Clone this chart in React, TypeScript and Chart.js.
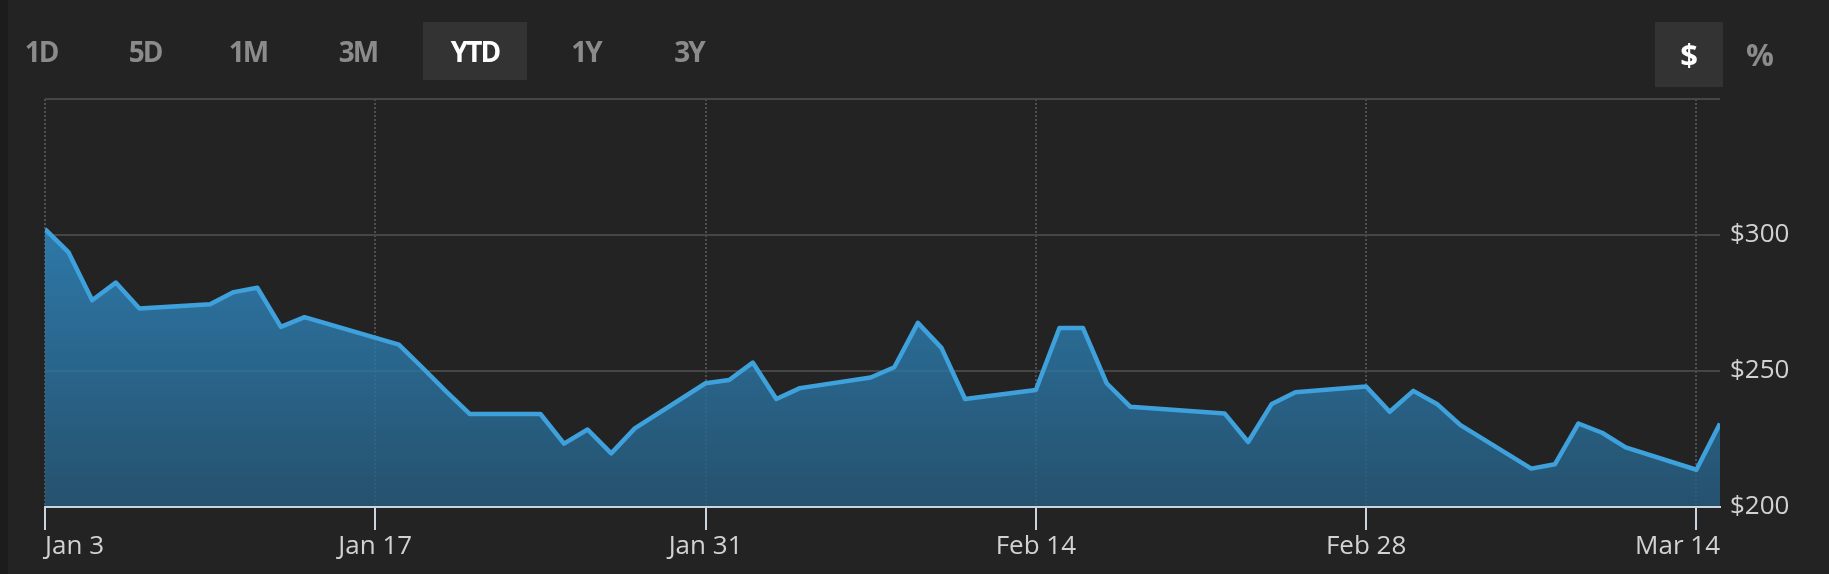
import React, { useEffect, useRef } from "react";
import { Chart, registerables } from "chart.js";

Chart.register(...registerables);

// ---- data ----
const dates = [
  "2022-01-03", "2022-01-04", "2022-01-05", "2022-01-06", "2022-01-07",
  "2022-01-10", "2022-01-11", "2022-01-12", "2022-01-13", "2022-01-14",
  "2022-01-18", "2022-01-19", "2022-01-20", "2022-01-21",
  "2022-01-24", "2022-01-25", "2022-01-26", "2022-01-27", "2022-01-28",
  "2022-01-31", "2022-02-01", "2022-02-02", "2022-02-03", "2022-02-04",
  "2022-02-07", "2022-02-08", "2022-02-09", "2022-02-10", "2022-02-11",
  "2022-02-14", "2022-02-15", "2022-02-16", "2022-02-17", "2022-02-18",
  "2022-02-22", "2022-02-23", "2022-02-24", "2022-02-25",
  "2022-02-28", "2022-03-01", "2022-03-02", "2022-03-03", "2022-03-04",
  "2022-03-07", "2022-03-08", "2022-03-09", "2022-03-10", "2022-03-11",
  "2022-03-14", "2022-03-15",
];
const prices = [
  302.2, 293.6, 276.0, 282.5, 273.0,
  274.5, 279.0, 280.6, 266.2, 269.8,
  259.7, 251.2, 242.5, 234.2,
  234.2, 223.3, 228.5, 219.7, 228.9,
  245.5, 246.7, 253.1, 239.7, 243.7,
  247.6, 251.4, 267.7, 258.5, 239.7,
  243.0, 265.8, 265.8, 245.5, 236.9,
  234.4, 223.9, 237.9, 242.2,
  244.3, 235.0, 242.7, 237.9, 230.1,
  214.1, 215.7, 230.7, 227.3, 221.9,
  213.7, 230.7,
];
const tickDates = ["2022-01-03", "2022-01-17", "2022-01-31", "2022-02-14", "2022-02-28", "2022-03-14"];
const tickLabels = ["Jan 3", "Jan 17", "Jan 31", "Feb 14", "Feb 28", "Mar 14"];
const yTickValues = [200, 250, 300, 350];
const yTickLabels = ["$200", "$250", "$300", ""];
const rangeLabels = ["1D", "5D", "1M", "3M", "YTD", "1Y", "3Y"];
const activeRange = "YTD";
const unitLabels = ["$", "%"];
const activeUnit = "$";

const DAY = 86400000;
const t0 = Date.parse(dates[0] + "T00:00:00Z");
const dayOf = (s: string) => Math.round((Date.parse(s + "T00:00:00Z") - t0) / DAY);
const tickDays = tickDates.map(dayOf);

// layout (not data)
const rangeCenters = [41, 145, 248, 358, 475, 586, 689];
const unitCenters = [1689, 1760];

const FONT = "'Open Sans', 'Noto Sans', sans-serif";

const lastLabelPlugin = {
  id: "lastLabelInside",
  beforeDraw(chart: any) {
    const s = chart.scales.x;
    if (!s) return;
    const items = s.getLabelItems();
    const it = items[items.length - 1];
    if (it) {
      it.options.translation = [chart.chartArea.right, it.options.translation[1]];
      it.options.textAlign = "right";
    }
  },
};

export default function App() {
  const ref = useRef<HTMLCanvasElement | null>(null);

  useEffect(() => {
    document.body.style.margin = "0";
    document.body.style.background = "#1c1c1c";
    const canvas = ref.current!;
    const points = dates.map((d, i) => ({ x: dayOf(d), y: prices[i] }));
    const chart = new Chart(canvas, {
      type: "line",
      data: {
        datasets: [
          {
            data: points,
            borderColor: "#3ea1dc",
            borderWidth: 4.5,
            borderJoinStyle: "round",
            pointRadius: 0,
            tension: 0,
            fill: "start",
            backgroundColor: (ctx: any) => {
              const { chart } = ctx;
              const area = chart.chartArea;
              if (!area) return "rgba(44,110,150,0.8)";
              const g = chart.ctx.createLinearGradient(0, area.top, 0, area.bottom);
              g.addColorStop(0, "rgba(52,150,210,0.82)");
              g.addColorStop(0.32, "rgba(48,139,198,0.82)");
              g.addColorStop(1, "rgba(38,92,126,0.82)");
              return g;
            },
          },
        ],
      },
      options: {
        animation: false,
        responsive: false,
        maintainAspectRatio: false,
        layout: { padding: { left: 45, top: 99, right: 0, bottom: 0 } },
        plugins: { legend: { display: false }, tooltip: { enabled: false } },
        scales: {
          x: {
            type: "linear",
            min: 0,
            max: dayOf(dates[dates.length - 1]),
            afterBuildTicks: (scale: any) => {
              scale.ticks = tickDays.map((v) => ({ value: v }));
            },
            afterFit: (scale: any) => {
              scale.height = 67;
            },
            grid: {
              color: "#505050",
              lineWidth: 2,
              drawTicks: true,
              tickLength: 23,
              tickWidth: 2,
              tickColor: "#c9d4de",
              tickBorderDash: [],
            },
            border: { display: true, color: "#c9d4de", width: 2, dash: [2, 2], z: 1 },
            ticks: {
              autoSkip: false,
              maxRotation: 0,
              align: "inner",
              padding: 1,
              color: "#d2d2d2",
              font: { family: FONT, size: 26 },
              callback: (v: any) => {
                const i = tickDays.indexOf(Number(v));
                return i >= 0 ? tickLabels[i] : "";
              },
            },
          },
          y: {
            position: "right",
            min: 200,
            max: 350,
            afterBuildTicks: (scale: any) => {
              scale.ticks = yTickValues.map((v) => ({ value: v }));
            },
            afterFit: (scale: any) => {
              scale.width = 109;
            },
            grid: {
              color: (ctx: any) => (ctx.tick && ctx.tick.value === 200 ? "rgba(0,0,0,0)" : "#464646"),
              lineWidth: 2,
              drawTicks: false,
            },
            border: { display: false },
            ticks: {
              padding: 10,
              color: "#d2d2d2",
              font: { family: FONT, size: 26 },
              callback: (v: any) => {
                const i = yTickValues.indexOf(Number(v));
                return i >= 0 ? yTickLabels[i] : "";
              },
            },
          },
        },
      },
      plugins: [lastLabelPlugin],
    } as any);
    return () => chart.destroy();
  }, []);

  const btn = (label: string, cx: number, active: boolean, key: string, size: number) => (
    <div
      key={key}
      style={{
        position: "absolute",
        left: cx - 60,
        width: 120,
        top: 22,
        height: 58,
        display: "flex",
        alignItems: "center",
        justifyContent: "center",
        fontFamily: FONT,
        fontWeight: 700,
        fontSize: size,
        lineHeight: 1,
        letterSpacing: "-2px",
        color: active ? "#ffffff" : "#8b8b8b",
      }}
    >
      {label}
    </div>
  );

  return (
    <div style={{ position: "absolute", left: 0, top: 0, width: 1829, height: 574, background: "#232323", overflow: "hidden" }}>
      <div style={{ position: "absolute", left: 0, top: 0, width: 8, height: 574, background: "#1c1c1c" }} />
      <div style={{ position: "absolute", left: 423, top: 22, width: 104, height: 58, background: "#333333" }} />
      <div style={{ position: "absolute", left: 1655, top: 22, width: 68, height: 65, background: "#333333" }} />
      <canvas ref={ref} width={1829} height={574} style={{ position: "absolute", left: 0, top: 0, width: 1829, height: 574 }} />
      {rangeLabels.map((l, i) => btn(l, rangeCenters[i], l === activeRange, "r" + l, 28))}
      {unitLabels.map((l, i) => (
        <div
          key={"u" + l}
          style={{
            position: "absolute",
            left: unitCenters[i] - 40,
            width: 80,
            top: 22,
            height: 65,
            display: "flex",
            alignItems: "center",
            justifyContent: "center",
            fontFamily: FONT,
            fontWeight: 700,
            fontSize: 31,
            lineHeight: 1,
            color: l === activeUnit ? "#ffffff" : "#8b8b8b",
          }}
        >
          {l}
        </div>
      ))}
    </div>
  );
}
